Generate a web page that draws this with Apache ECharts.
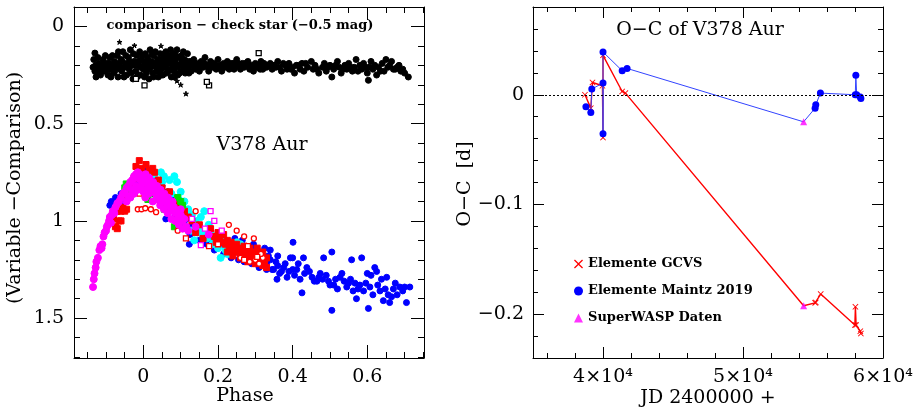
<!DOCTYPE html>
<html>
<head>
<meta charset="utf-8">
<script src="https://cdn.jsdelivr.net/npm/echarts@6/dist/echarts.min.js"></script>
<style>
  html, body { margin: 0; padding: 0; background: #fff; }
  #chart { width: 915px; height: 407px; }
</style>
</head>
<body>
<div id="chart"></div>
<script>
// ---- left panel: phase diagram [phase, mag] ----
const checkStar = [
  [-0.13,0.137],[-0.135,0.21],[-0.13,0.23],[-0.128,0.2],[-0.125,0.24],[-0.12,0.19],[-0.118,0.22],[-0.115,0.25],
  [-0.11,0.2],[-0.108,0.17],[-0.105,0.23],[-0.1,0.21],[-0.098,0.19],[-0.095,0.25],[-0.09,0.16],[-0.088,0.22],
  [-0.085,0.2],[-0.08,0.24],[-0.078,0.18],[-0.075,0.21],[-0.07,0.15],[-0.068,0.26],[-0.065,0.2],[-0.06,0.17],
  [-0.058,0.23],[-0.055,0.13],[-0.05,0.21],[-0.048,0.19],[-0.045,0.25],[-0.04,0.16],[-0.038,0.22],[-0.035,0.12],
  [-0.03,0.2],[-0.028,0.27],[-0.025,0.18],[-0.02,0.23],[-0.018,0.15],[-0.015,0.2],[-0.01,0.13],[-0.008,0.25],
  [-0.005,0.17],[0,0.22],[0.002,0.19],[0.005,0.14],[0.008,0.24],[0.01,0.2],[0.012,0.16],[0.015,0.27],
  [0.018,0.12],[0.02,0.21],[0.022,0.18],[0.025,0.24],[0.028,0.15],[0.03,0.2],[0.032,0.13],[0.035,0.23],
  [0.038,0.17],[0.04,0.26],[0.042,0.2],[0.045,0.14],[0.048,0.22],[0.05,0.18],[0.052,0.25],[0.055,0.16],
  [0.058,0.21],[0.06,0.13],[0.062,0.24],[0.065,0.19],[0.068,0.15],[0.07,0.22],[0.072,0.17],[0.075,0.26],
  [0.078,0.2],[0.08,0.14],[0.082,0.23],[0.085,0.18],[0.088,0.21],[0.09,0.12],[0.092,0.25],[0.095,0.16],
  [0.098,0.2],[0.1,0.23],[0.102,0.15],[0.105,0.19],[0.108,0.22],[0.11,0.17],[0.112,0.24],[0.115,0.2],
  [0.118,0.14],[0.12,0.21],[0.125,0.18],[0.128,0.23],
  [0.13,0.2],[0.135,0.17],[0.14,0.22],[0.145,0.19],[0.15,0.23],[0.155,0.18],[0.16,0.21],[0.165,0.16],
  [0.17,0.2],[0.175,0.23],[0.18,0.18],[0.185,0.21],[0.19,0.19],[0.195,0.22],[0.2,0.17],[0.205,0.2],
  [0.21,0.23],[0.215,0.19],[0.22,0.21],[0.225,0.18],[0.23,0.22],[0.235,0.2],[0.24,0.19],[0.245,0.21],
  [0.25,0.17],[0.255,0.2],[0.26,0.22],[0.265,0.19],[0.27,0.21],[0.275,0.2],[0.28,0.18],[0.285,0.22],
  [0.29,0.2],[0.295,0.23],[0.3,0.19],[0.305,0.21],[0.31,0.2],[0.315,0.18],[0.32,0.22],[0.325,0.2],
  [0.33,0.21],[0.34,0.19],[0.345,0.22],[0.35,0.2],[0.36,0.18],[0.365,0.21],[0.37,0.23],[0.38,0.2],
  [0.385,0.22],[0.39,0.19],[0.4,0.21],[0.405,0.24],[0.41,0.2],[0.42,0.22],[0.425,0.19],[0.43,0.23],
  [0.44,0.21],[0.45,0.18],[0.455,0.22],[0.46,0.2],[0.47,0.24],[0.48,0.21],[0.485,0.19],[0.49,0.23],
  [0.5,0.2],[0.505,0.26],[0.51,0.22],[0.52,0.18],[0.525,0.21],[0.53,0.24],[0.54,0.2],[0.545,0.22],
  [0.55,0.19],[0.56,0.23],[0.565,0.21],[0.57,0.17],[0.58,0.2],[0.585,0.22],[0.59,0.19],[0.6,0.24],
  [0.603,0.277],[0.605,0.21],[0.61,0.18],[0.615,0.22],[0.62,0.2],[0.625,0.25],[0.63,0.21],[0.64,0.19],
  [0.645,0.23],[0.65,0.17],[0.655,0.21],[0.66,0.2],[0.67,0.22],[0.68,0.21],[0.69,0.23],[0.7,0.24],[0.71,0.26],
  [-0.133,0.17],[-0.127,0.26],[-0.122,0.16],[-0.117,0.2],[-0.112,0.23],[-0.106,0.2],[-0.102,0.15],[-0.097,0.22],
  [-0.092,0.19],[-0.087,0.26],[-0.083,0.15],[-0.077,0.23],[-0.072,0.19],[-0.067,0.13],[-0.062,0.22],[-0.057,0.18],
  [-0.052,0.26],[-0.047,0.15],[-0.042,0.2],[-0.037,0.18],[-0.032,0.24],[-0.027,0.14],[-0.022,0.2],[-0.017,0.26],
  [-0.012,0.18],[-0.007,0.21],[-0.002,0.15],[0.003,0.26],[0.007,0.18],[0.013,0.22],[0.017,0.19],[0.023,0.14],
  [0.027,0.26],[0.033,0.19],[0.037,0.21],[0.043,0.17],[0.047,0.25],[0.053,0.2],[0.057,0.14],[0.063,0.18],
  [0.067,0.23],[0.073,0.12],[0.077,0.17],[0.083,0.26],[0.087,0.15],[0.093,0.2],[0.097,0.24],[0.103,0.18],
  [0.107,0.13],[0.113,0.21],[0.117,0.18],[0.122,0.24],[0.127,0.2],
  [0.133,0.19],[0.143,0.21],[0.153,0.2],[0.163,0.19],[0.173,0.21],[0.183,0.2],[0.193,0.2],[0.203,0.21],
  [0.213,0.2],[0.223,0.2],[0.233,0.19],[0.243,0.22],[0.253,0.19],[0.263,0.2],[0.273,0.19],[0.283,0.2],
  [0.293,0.21],[0.303,0.2],[0.313,0.22],[0.323,0.19],[0.335,0.2],[0.355,0.21],[0.375,0.19],[0.395,0.22],
  [0.415,0.2],[0.435,0.19],[0.465,0.22],[0.495,0.21],[0.515,0.2],[0.535,0.22],[0.555,0.21],[0.575,0.23],
  [0.595,0.21],[0.635,0.23],[0.665,0.18],[0.675,0.22],[0.685,0.2],[0.695,0.22]
];
const checkStarOpen = [[0.309,0.137],[0.003,0.303],[0.176,0.303],[0.17,0.285],[-0.02,0.27]];
const checkStarAst = [[-0.064,0.08],[-0.024,0.098],[0.047,0.1],[0.114,0.346],[0.1,0.3],[0.09,0.28]];

const magentaPts = [
  [-0.135,1.34],[-0.133,1.3],[-0.131,1.27],[-0.128,1.24],[-0.126,1.21],[-0.122,1.19],[-0.118,1.15],[-0.115,1.13],
  [-0.112,1.14],[-0.11,1.12],[-0.107,1.08],[-0.104,1.06],[-0.1,1.05],[-0.098,1.03],[-0.095,1.02],[-0.092,1.0],
  [-0.09,0.98],[-0.087,1.01],[-0.085,0.97],[-0.082,0.95],[-0.078,0.96],[-0.075,0.93],[-0.07,0.91],[-0.065,0.9],
  [-0.06,0.88],[-0.055,0.86],[-0.05,0.85],[-0.045,0.83],[-0.04,0.82],[-0.035,0.8],[-0.03,0.79],[-0.025,0.77],
  [-0.02,0.76],[-0.018,0.78],[-0.015,0.75],[-0.01,0.76],[-0.008,0.79],[-0.005,0.77],[0,0.78],[0.003,0.8],
  [0.006,0.76],[0.01,0.79],[0.013,0.82],[0.016,0.78],[0.02,0.81],[0.023,0.84],[0.026,0.8],[0.03,0.83],
  [0.033,0.86],[0.036,0.82],[0.04,0.85],[0.043,0.88],[0.046,0.84],[0.05,0.87],[0.053,0.9],[0.056,0.86],
  [0.06,0.89],[0.063,0.92],[0.066,0.88],[0.07,0.91],[0.074,0.94],[0.078,0.9],[0.082,0.93],[0.086,0.96],
  [0.09,0.95],[0.095,0.98],[0.1,0.97],[0.105,1.0],[0.11,0.99],[-0.04,0.87],[-0.03,0.84],[-0.02,0.82],
  [-0.01,0.83],[0,0.85],
  [-0.045,0.9],[-0.035,0.88],[-0.025,0.86],[-0.015,0.84],[0.005,0.88],[0.015,0.86],[0.025,0.9],[0.035,0.89],
  [0.045,0.92],[0.055,0.94],[0.065,0.96],[0.075,0.99],[0.085,1.0],[0.095,1.02],[0.105,1.04],[0.115,1.03],
  [-0.005,0.82],[0.01,0.84],[0.04,0.87],[0.06,0.9],[0.08,0.95],[0.1,0.94],[0.12,1.05],[0.14,1.03],[0.175,1.07]
];
const redPts = [
  [-0.08,0.99],[-0.075,1.03],[-0.07,0.95],[-0.065,1.0],[-0.06,0.95],[-0.055,0.93],[-0.05,0.95],[-0.045,0.94],
  [-0.042,0.88],[-0.035,0.82],[-0.03,0.85],[-0.025,0.78],[-0.02,0.72],[-0.011,0.69],[-0.005,0.73],[0.007,0.71],
  [0.015,0.74],[0.025,0.73],[0.03,0.75],[0.04,0.79],[0.05,0.83],[0.06,0.86],[0.07,0.85],[0.09,0.9],
  [0.1,0.93],[0.11,0.95],[0.12,0.98],[0.13,1.0],[0.15,1.02],[0.19,1.08],[0.2,1.06],[0.205,1.09],
  [0.21,1.11],[0.215,1.07],[0.22,1.12],[0.225,1.1],[0.23,1.13],[0.235,1.11],[0.24,1.15],[0.245,1.13],
  [0.25,1.12],[0.255,1.16],[0.26,1.14],[0.265,1.17],[0.27,1.13],[0.275,1.15],[0.28,1.18],[0.285,1.14],
  [0.29,1.16],[0.295,1.19],[0.3,1.17],[0.305,1.14],[0.31,1.18],[0.315,1.2],[0.32,1.16],[0.325,1.22],[0.33,1.19],
  [0.18,1.04],[0.195,1.11],[0.225,1.16],[0.24,1.18],[0.26,1.19],[0.28,1.21],[0.3,1.22],[0.32,1.23],
  [0.33,1.24],[-0.07,1.04],[-0.06,1.0],[0.14,1.06],[0.16,1.09]
];
const greenPts = [
  [-0.05,0.83],[-0.046,0.81],[-0.037,0.87],[-0.03,0.84],[0.012,0.89],[0.02,0.86],[0.056,0.94],
  [0.06,0.92],[0.083,1.03],[0.088,1.02],[0.092,0.88],[0.1,0.9],[0.105,0.92]
];
const cyanPts = [
  [0.02,0.74],[0.03,0.76],[0.047,0.75],[0.055,0.77],[0.07,0.79],[0.083,0.77],[0.09,0.8],[0.1,0.85],
  [0.11,0.9],[0.12,0.94],[0.127,1.05],[0.13,0.97],[0.136,1.1],[0.14,1.0],[0.145,1.06],[0.15,1.03],
  [0.154,0.98],[0.16,1.07],[0.163,0.95],[0.165,1.05],[0.17,1.09],[0.175,1.02],[0.18,1.06],[0.185,1.12],
  [0.189,1.1],[0.195,1.08],[0.2,1.14],[0.207,1.19],[0.21,1.1],[0.22,1.15],[0.225,1.17],[0.234,1.17],
  [0.243,1.13],[0.25,1.11],[0.26,1.12],[0.27,1.14],[0.05,0.8],[0.075,0.86],[0.095,0.89],[0.115,0.97]
];
const bluePts = [
  [-0.09,0.92],[-0.086,0.9],[-0.08,0.94],[-0.075,0.88],[-0.06,0.86],[-0.05,0.87],[-0.04,0.83],[-0.02,0.8],
  [-0.01,0.76],[0,0.74],[0.01,0.76],[0.02,0.78],[0.03,0.82],[0.035,0.79],[0.04,0.84],[0.045,0.8],
  [0.05,0.82],[0.055,0.86],[0.06,0.99],[0.065,0.85],[0.07,0.88],[0.075,0.87],[0.08,0.9],[0.085,0.93],
  [0.09,0.92],[0.095,0.95],[0.1,0.98],[0.105,0.96],[0.11,1.0],[0.115,0.99],[0.123,1.12],[0.13,1.02],
  [0.14,1.04],[0.16,1.08],[0.18,1.1],[0.2,1.08],[0.21,1.12],[0.22,1.1],[0.23,1.14],[0.24,1.12],
  [0.245,1.09],[0.25,1.16],[0.255,1.13],[0.26,1.15],[0.265,1.1],[0.27,1.17],[0.275,1.13],[0.28,1.16],
  [0.285,1.19],[0.29,1.14],[0.295,1.12],[0.3,1.18],[0.305,1.15],[0.31,1.21],[0.315,1.17],[0.32,1.19],
  [0.325,1.14],[0.33,1.22],[0.335,1.18],[0.34,1.2],
  [-0.055,0.9],[-0.03,0.86],[0.005,0.83],[0.025,0.86],[0.045,0.9],[0.065,0.93],[0.085,0.97],[0.1,1.03],
  [0.125,1.07],[0.15,1.1],[0.17,1.12],[0.19,1.15],[0.215,1.17],[0.235,1.19],[0.255,1.2],[0.27,1.21],
  [0.29,1.22],[0.31,1.24],[0.33,1.25],[0.34,1.15],[0.36,1.18],[0.4,1.19],
  [0.345,1.25],[0.349,1.25],[0.355,1.21],[0.358,1.3],[0.36,1.23],[0.365,1.27],[0.37,1.26],[0.376,1.24],
  [0.38,1.22],[0.385,1.29],[0.39,1.26],[0.394,1.19],[0.4,1.25],[0.401,1.11],[0.405,1.28],[0.411,1.25],
  [0.415,1.22],[0.42,1.3],[0.425,1.37],[0.429,1.19],[0.432,1.27],[0.438,1.24],[0.445,1.26],[0.452,1.29],
  [0.458,1.31],[0.465,1.31],[0.47,1.29],[0.474,1.27],[0.48,1.3],[0.483,1.19],[0.49,1.28],[0.496,1.31],
  [0.5,1.33],[0.505,1.16],[0.505,1.46],[0.51,1.33],[0.515,1.3],[0.52,1.35],[0.527,1.29],[0.532,1.27],
  [0.538,1.31],[0.545,1.34],[0.55,1.32],[0.555,1.3],[0.558,1.2],[0.562,1.36],[0.567,1.32],[0.571,1.4],
  [0.575,1.35],[0.58,1.33],[0.585,1.19],[0.59,1.36],[0.596,1.32],[0.6,1.27],[0.603,1.45],[0.607,1.34],
  [0.61,1.28],[0.615,1.38],[0.62,1.24],[0.625,1.26],[0.628,1.33],[0.634,1.36],[0.638,1.3],[0.643,1.41],
  [0.648,1.35],[0.652,1.29],[0.656,1.38],[0.66,1.42],[0.665,1.39],[0.67,1.35],[0.675,1.32],[0.68,1.38],
  [0.687,1.34],[0.695,1.36],[0.7,1.34],[0.705,1.42],[0.714,1.34]
];
const redOpenCircle = [
  [-0.015,0.94],[-0.005,0.94],[0.005,0.935],[0.02,0.94],[0.034,0.955],[0.07,0.93],[0.092,1.05],[0.1,0.96],
  [0.14,0.95],[0.229,1.02],[0.25,1.05],[0.296,1.09],[0.27,1.08],[0.3,1.2],[0.31,1.22],[0.285,1.21],
  [0.32,1.19],[0.26,1.19],[0.315,1.17]
];
const redOpenSquare = [[-0.01,0.86],[0.05,0.9],[0.114,1.09],[0.176,1.13],[0.27,1.2],[0.305,1.185],[0.2,1.12],[0.28,1.13]];
const magentaOpenSquare = [[0.078,0.91],[0.18,0.95],[0.19,1.0],[0.154,1.125],[0.13,0.99],[0.165,1.04],[0.21,1.05]];

// ---- right panel: O-C [JD-2400000, O-C in d] ----
const gcvsOC = [
  [38710,0.0],[39130,-0.0122],[39250,0.0112],[39960,0.0082],[40000,-0.039],[40000,0.0359],[41370,0.003],
  [41600,0.0015],[54330,-0.1924],[55150,-0.1897],[55200,-0.1893],[55550,-0.1817],[57990,-0.21],
  [58030,-0.1933],[58080,-0.21],[58380,-0.2155],[58420,-0.2177]
];
const mainzOC = [
  [38780,-0.011],[39130,-0.0162],[39200,0.0052],[40000,0.0107],[40000,-0.0356],[40000,0.039],[41370,0.0219],
  [41720,0.024],[54330,-0.0247],[55150,-0.0122],[55200,-0.0091],[55530,0.0015],[58020,0.0],[58060,0.0177],
  [58120,0.0],[58380,-0.002],[58420,-0.0035]
];
const swaspOC = [[54330,-0.0247],[54330,-0.1924]];

// ---- ticks ----
const phaseTicks = [0, 0.2, 0.4, 0.6];
const phaseMinor = [-0.15,-0.1,-0.05,0.05,0.1,0.15,0.25,0.3,0.35,0.45,0.5,0.55,0.65,0.7,0.75];
const magTicks = [0, 0.5, 1, 1.5];
const magMinor = [0.1,0.2,0.3,0.4,0.6,0.7,0.8,0.9,1.1,1.2,1.3,1.4,1.6,1.7];
const jdTicks = [40000, 50000, 60000];
const jdMinor = [36000,38000,42000,44000,46000,48000,52000,54000,56000,58000];
const ocTicks = [0, -0.1, -0.2];
const ocMinor = [0.06,0.04,0.02,-0.02,-0.04,-0.06,-0.08,-0.12,-0.14,-0.16,-0.18,-0.22];

const FONT = "DejaVu Serif";
const crossPath = "path://M0,1L1,0L5,4L9,0L10,1L6,5L10,9L9,10L5,6L1,10L0,9L4,5Z";
const starPath = "path://M5,0L6,4L10,4L7,6L8,10L5,7L2,10L3,6L0,4L4,4Z";

// four axes per side pair: labelled major, minor, mirrored major, mirrored minor
function axisSet(gridIndex, sides, min, max, major, minor, fmt, margin, inverse, majLen, minLen) {
  const mk = (pos, ticks, len, line, labels) => ({
    type: "value", gridIndex: gridIndex, position: pos, min: min, max: max, inverse: !!inverse,
    axisLine: { show: line, onZero: false, lineStyle: { color: "#000", width: 1 } },
    axisTick: { show: true, inside: true, length: len, customValues: ticks, lineStyle: { color: "#000", width: 1 } },
    axisLabel: labels ? {
      show: true, customValues: ticks, margin: margin, formatter: fmt,
      fontFamily: FONT, fontSize: 19, color: "#000"
    } : { show: false },
    splitLine: { show: false }
  });
  return [
    mk(sides[0], major, majLen, true, true),
    mk(sides[0], minor, minLen, false, false),
    mk(sides[1], major, majLen, true, false),
    mk(sides[1], minor, minLen, false, false)
  ];
}

const phaseFmt = v => (v === 0 ? "0" : String(+v.toFixed(1)));
const magFmt = v => (v === 0 ? "0" : String(+v.toFixed(1)));
const jdFmt = v => Math.round(v / 1e4) + "×10⁴";
const ocFmt = v => (Math.abs(v) < 1e-9 ? "0" : "−" + Math.abs(v).toFixed(1));

const xAxes = []
  .concat(axisSet(0, ["bottom", "top"], -0.186, 0.752, phaseTicks, phaseMinor, phaseFmt, 10, false, 13, 6))
  .concat(axisSet(1, ["bottom", "top"], 35000, 60000, jdTicks, jdMinor, jdFmt, 10, false, 11, 5));
const yAxes = []
  .concat(axisSet(0, ["left", "right"], -0.1, 1.705, magTicks, magMinor, magFmt, 10, true, 13, 6))
  .concat(axisSet(1, ["left", "right"], -0.24, 0.08, ocTicks, ocMinor, ocFmt, 9, false, 11, 5));

function scatterL(name, data, symbol, size, color) {
  return {
    name: name, type: "scatter", xAxisIndex: 0, yAxisIndex: 0, data: data,
    symbol: symbol, symbolSize: size, silent: true,
    itemStyle: { color: color, borderColor: color, opacity: 1 }
  };
}
function openL(name, data, symbol, size, color) {
  return {
    name: name, type: "scatter", xAxisIndex: 0, yAxisIndex: 0, data: data,
    symbol: symbol, symbolSize: size, silent: true,
    itemStyle: { color: "#fff", borderColor: color, borderWidth: 1.3, opacity: 1 }
  };
}

const chart = echarts.init(document.getElementById("chart"), null, { renderer: "canvas" });
chart.setOption({
  animation: false,
  backgroundColor: "#fff",
  grid: [
    { left: 74, top: 7, width: 350, height: 351, containLabel: false, outerBoundsMode: "none" },
    { left: 533, top: 7, width: 350, height: 351, containLabel: false, outerBoundsMode: "none" }
  ],
  xAxis: xAxes,
  yAxis: yAxes,
  legend: {
    orient: "vertical", left: 569, top: 252, itemWidth: 9, itemHeight: 9, itemGap: 13,
    selectedMode: false,
    textStyle: { fontFamily: FONT, fontSize: 13, fontWeight: "bold", color: "#000", lineHeight: 14 },
    data: [
      { name: "Elemente GCVS", icon: crossPath, itemStyle: { color: "#ff0000" } },
      { name: "Elemente Maintz 2019", icon: "circle", itemStyle: { color: "#0000ff" } },
      { name: "SuperWASP Daten", icon: "triangle", itemStyle: { color: "#ff00ff" } }
    ]
  },
  series: [
    scatterL("check", checkStar, "circle", 6, "#000"),
    openL("checkOpen", checkStarOpen, "rect", 5, "#000"),
    scatterL("checkAst", checkStarAst, starPath, 5, "#000"),
    scatterL("blue", bluePts, "circle", 6, "#0000ff"),
    scatterL("cyan", cyanPts, "circle", 7, "#00ffff"),
    scatterL("red", redPts, "rect", 6, "#ff0000"),
    scatterL("green", greenPts, "rect", 6, "#00e000"),
    openL("redOpenC", redOpenCircle, "circle", 5, "#ff0000"),
    openL("redOpenS", redOpenSquare, "rect", 5, "#ff0000"),
    openL("magOpenS", magentaOpenSquare, "rect", 5, "#ff00ff"),
    scatterL("magenta", magentaPts, "circle", 7, "#ff00ff"),
    {
      name: "Elemente Maintz 2019", type: "line", xAxisIndex: 4, yAxisIndex: 4,
      data: mainzOC.map(p => (p[0] === swaspOC[0][0] ? { value: p, symbol: "none" } : p)),
      symbol: "circle", symbolSize: 7, showAllSymbol: true, silent: true,
      lineStyle: { color: "#3344ff", width: 1 },
      itemStyle: { color: "#0000ff" },
      markLine: {
        silent: true, symbol: "none", label: { show: false },
        lineStyle: { type: [2, 2], color: "#000", width: 1 },
        data: [{ yAxis: 0 }]
      },
      z: 3
    },
    {
      name: "Elemente GCVS", type: "line", xAxisIndex: 4, yAxisIndex: 4,
      data: gcvsOC.map(p => (p[0] === swaspOC[0][0] ? { value: p, symbol: "none" } : p)),
      symbol: crossPath, symbolSize: 6, showAllSymbol: true, silent: true,
      lineStyle: { color: "#ff0000", width: 1.4 },
      itemStyle: { color: "#ff0000" },
      z: 2
    },
    {
      name: "SuperWASP Daten", type: "scatter", xAxisIndex: 4, yAxisIndex: 4,
      data: swaspOC, symbol: "triangle", symbolSize: 7, silent: true,
      itemStyle: { color: "#ff00ff" }, z: 4
    }
  ],
  graphic: [
    { type: "text", x: 240, y: 26, silent: true,
      style: { text: "comparison − check star (−0.5 mag)", font: "bold 13px 'DejaVu Serif'", fill: "#000", textAlign: "center", textVerticalAlign: "middle" } },
    { type: "text", x: 262, y: 145, silent: true,
      style: { text: "V378 Aur", font: "19px 'DejaVu Serif'", fill: "#000", textAlign: "center", textVerticalAlign: "middle" } },
    { type: "text", x: 15, y: 188, rotation: Math.PI / 2, silent: true,
      style: { text: "(Variable −Comparison)", font: "19px 'DejaVu Serif'", fill: "#000", textAlign: "center", textVerticalAlign: "middle" } },
    { type: "text", x: 245, y: 396, silent: true,
      style: { text: "Phase", font: "19px 'DejaVu Serif'", fill: "#000", textAlign: "center", textVerticalAlign: "middle" } },
    { type: "text", x: 700, y: 30, silent: true,
      style: { text: "O−C of V378 Aur", font: "19px 'DejaVu Serif'", fill: "#000", textAlign: "center", textVerticalAlign: "middle" } },
    { type: "text", x: 465, y: 184, rotation: Math.PI / 2, silent: true,
      style: { text: "O−C  [d]", font: "19px 'DejaVu Serif'", fill: "#000", textAlign: "center", textVerticalAlign: "middle" } },
    { type: "text", x: 708, y: 398, silent: true,
      style: { text: "JD 2400000 +", font: "19px 'DejaVu Serif'", fill: "#000", textAlign: "center", textVerticalAlign: "middle" } }
  ]
});
</script>
</body>
</html>
